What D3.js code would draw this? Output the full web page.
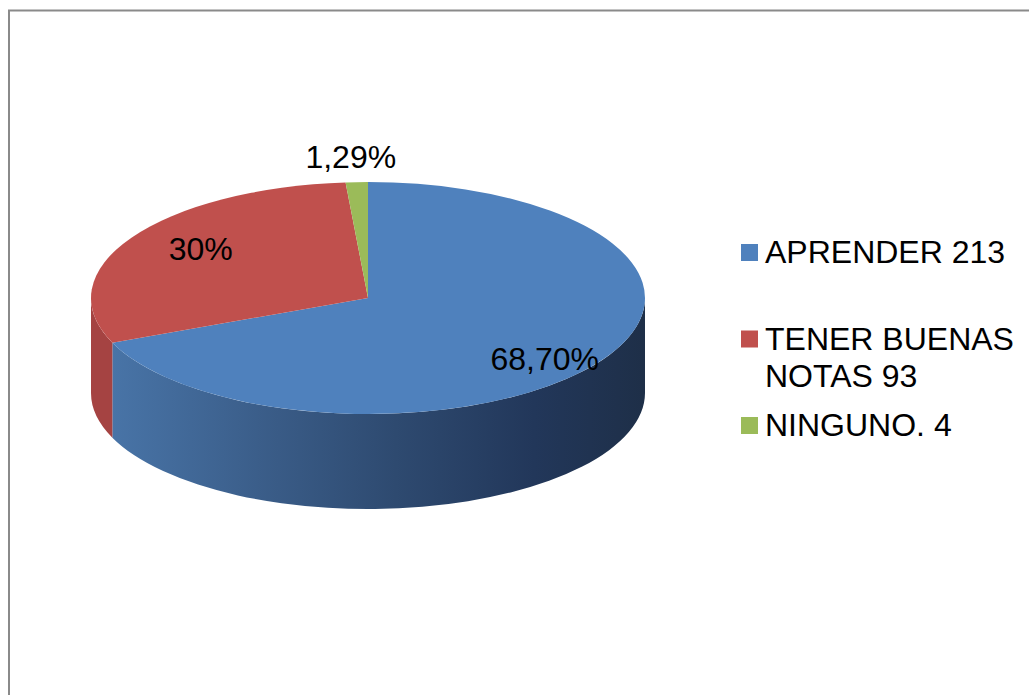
<!DOCTYPE html>
<html>
<head>
<meta charset="utf-8">
<script src="https://cdn.jsdelivr.net/npm/d3@7"></script>
<style>
  body { margin: 0; background: #fff; }
  svg { display: block; font-family: "Liberation Sans", Arial, sans-serif; }
</style>
</head>
<body>
<div id="vis"></div>
<script>
const width = 1029,
  height = 695,
  cx = 368,
  cy = 298,
  rx = 277,
  ry = 116,
  depth = 95;

// data
const categories = ["APRENDER", "TENER BUENAS NOTAS", "NINGUNO."];
const values = [213, 93, 4];
const pctLabels = ["68,70%", "30%", "1,29%"];
const colors = ["#4F81BD", "#C0504D", "#9BBB59"];
const sideColors = ["#3a5f8c", "#a54342", "#7f9a48"];

const svg = d3
  .select("#vis")
  .append("svg")
  .attr("width", width)
  .attr("height", height);

const defs = svg.append("defs");
// gradient lives in the pie group's local coords (centred at 0)
const grad = defs
  .append("linearGradient")
  .attr("id", "blueSide")
  .attr("gradientUnits", "userSpaceOnUse")
  .attr("x1", -rx)
  .attr("x2", rx)
  .attr("y1", 0)
  .attr("y2", 0);
grad.append("stop").attr("offset", "0%").attr("stop-color", "#4a77ab");
grad.append("stop").attr("offset", "30%").attr("stop-color", "#3b5e8a");
grad.append("stop").attr("offset", "55%").attr("stop-color", "#2e4a70");
grad.append("stop").attr("offset", "80%").attr("stop-color", "#22375a");
grad.append("stop").attr("offset", "100%").attr("stop-color", "#1e2f48");

// chart frame
svg
  .append("rect")
  .attr("x", 9)
  .attr("y", 10.5)
  .attr("width", 1200)
  .attr("height", 900)
  .attr("fill", "none")
  .attr("stroke", "#8a8a8a")
  .attr("stroke-width", 2);

const pie = d3.pie().sort(null).value((d) => d);
const arcs = pie(values);

const k = rx / ry; // scale factor: circle -> ellipse
const D = depth * k;

const g = svg
  .append("g")
  .attr("transform", `translate(${cx},${cy}) scale(1,${ry / rx})`);

// front side walls (angles between PI/2 and 3PI/2 are visible)
function sidePath(a0, a1) {
  const s = Math.max(a0, Math.PI / 2),
    e = Math.min(a1, (3 * Math.PI) / 2);
  if (e <= s) return null;
  const p = d3.path();
  p.arc(0, 0, rx, s - Math.PI / 2, e - Math.PI / 2);
  p.lineTo(rx * Math.sin(e), -rx * Math.cos(e) + D);
  p.arc(0, D, rx, e - Math.PI / 2, s - Math.PI / 2, true);
  p.closePath();
  return p.toString();
}

arcs.forEach((a, i) => {
  const d = sidePath(a.startAngle, a.endAngle);
  if (d)
    g.append("path")
      .attr("d", d)
      .attr("fill", i === 0 ? "url(#blueSide)" : sideColors[i]);
});

// top faces
const arc = d3.arc().innerRadius(0).outerRadius(rx);
g.selectAll("path.top")
  .data(arcs)
  .enter()
  .append("path")
  .attr("class", "top")
  .attr("d", arc)
  .attr("fill", (d, i) => colors[i]);

// percentage labels
const labels = svg.append("g").attr("font-size", 32).attr("fill", "#000");
arcs.forEach((a, i) => {
  const mid = (a.startAngle + a.endAngle) / 2;
  let x, y;
  if (a.endAngle - a.startAngle > 0.3) {
    x = cx + 204 * Math.sin(mid) + 7;
    y = cy - 102 * Math.cos(mid) + 4;
  } else {
    x = cx + rx * Math.sin(mid) - 6;
    y = cy - (ry + 25) * Math.cos(mid);
  }
  labels
    .append("text")
    .attr("x", x)
    .attr("y", y + 11)
    .attr("text-anchor", "middle")
    .text(pctLabels[i]);
});

// legend
const legendX = 741,
  legendY = 263,
  slot = 86.5,
  lineH = 37,
  maxW = 255;
const legend = svg.append("g").attr("font-size", 32);

categories.forEach((c, i) => {
  const y = legendY + i * slot;
  legend
    .append("rect")
    .attr("x", legendX)
    .attr("y", y - 19)
    .attr("width", 17)
    .attr("height", 17)
    .attr("fill", colors[i]);
  const t = legend
    .append("text")
    .attr("x", legendX + 24)
    .attr("y", y)
    .attr("fill", "#000");
  // wrap words
  const words = `${c} ${values[i]}`.split(" ");
  let line = [];
  let ts = t.append("tspan").attr("x", legendX + 24).attr("dy", 0);
  words.forEach((w) => {
    line.push(w);
    ts.text(line.join(" "));
    if (ts.node().getComputedTextLength() > maxW && line.length > 1) {
      line.pop();
      ts.text(line.join(" "));
      line = [w];
      ts = t
        .append("tspan")
        .attr("x", legendX + 24)
        .attr("dy", lineH)
        .text(w);
    }
  });
});
</script>
</body>
</html>
